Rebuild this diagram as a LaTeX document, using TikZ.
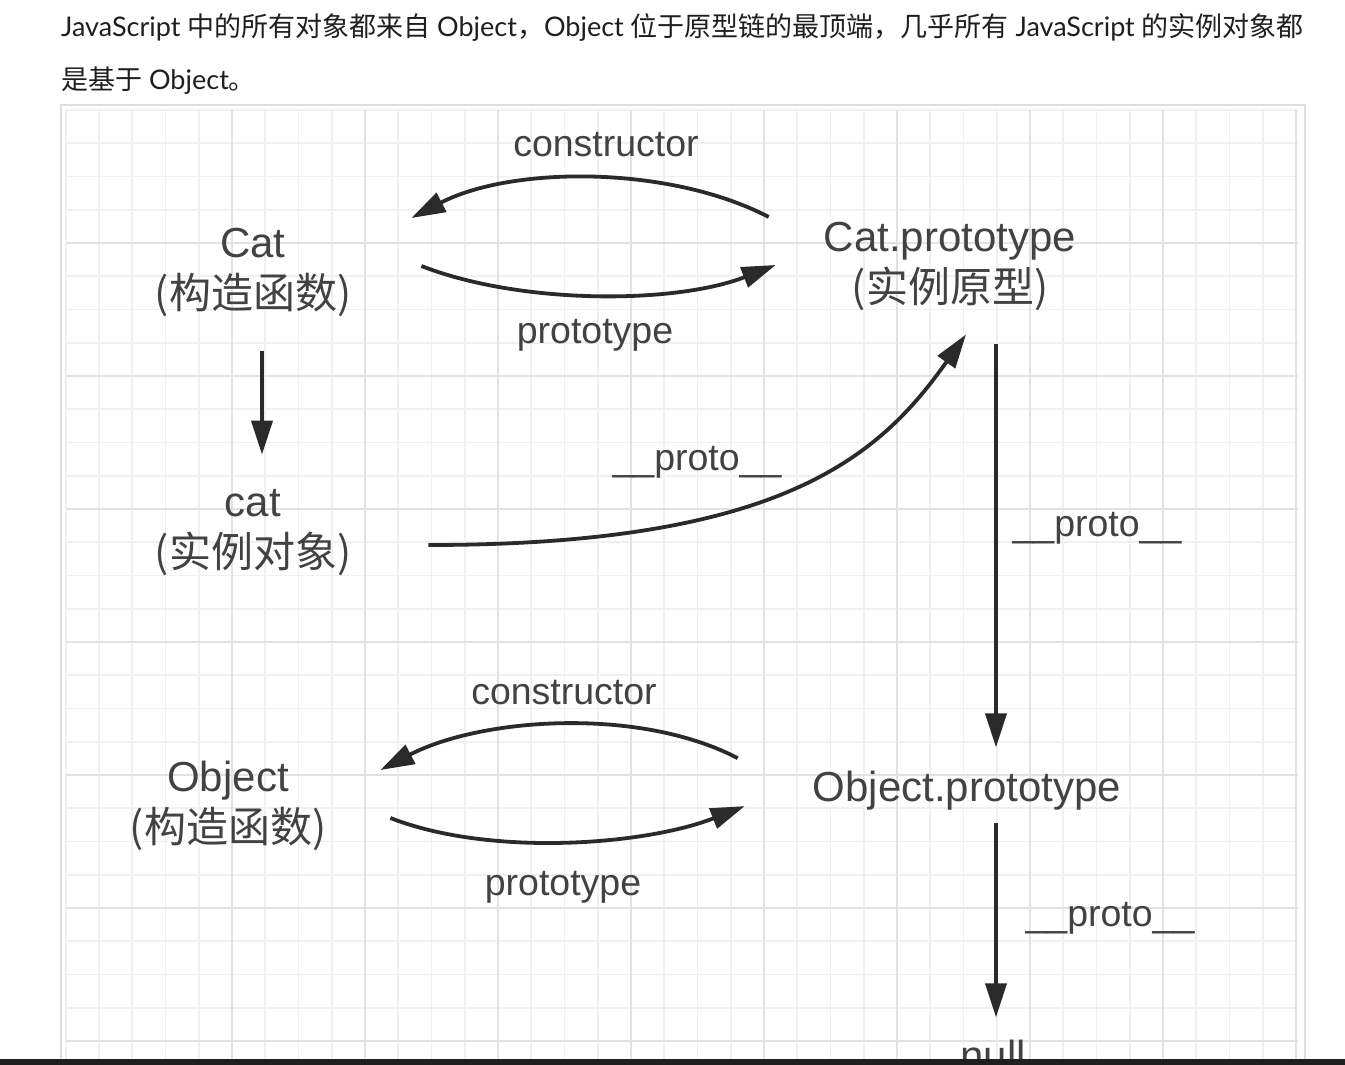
\documentclass[tikz,border=0pt]{standalone}
\usepackage{fontspec}
\setmainfont{Liberation Sans}
\newfontfamily\cjk{Noto Sans CJK SC}
\newfontfamily\lato{Lato}
\usetikzlibrary{arrows.meta, positioning}
\definecolor{ink}{RGB}{66,66,66}
\definecolor{arrowink}{RGB}{42,42,42}
\definecolor{gridminor}{RGB}{240,240,240}
\definecolor{gridmajor}{RGB}{226,226,226}
\definecolor{framegray}{RGB}{222,222,222}

\begin{document}
\begin{tikzpicture}[x=1pt, y=-1pt,
  term/.style={text=ink, inner sep=0pt, align=center, font=\fontsize{42}{51}\selectfont},
  edgetext/.style={text=ink, inner sep=0pt, anchor=base, font=\fontsize{37.5}{45}\selectfont},
  intro/.style={text=black!88, inner sep=0pt, anchor=base west, font=\lato\fontsize{27}{52}\selectfont},
  link/.style={draw=arrowink, line width=3.8pt, -{Triangle[length=34pt, width=21pt]}},
  minor/.style={draw=gridminor, line width=1.6pt},
  major/.style={draw=gridmajor, line width=2pt}]
  \useasboundingbox[fill=white] (0,0) rectangle (1345,1065);
  % Text above the figure
  \node[intro] (introtop) at (61,37) {JavaScript {\cjk 中的所有对象都来自} Object{\cjk ，}Object {\cjk 位于原型链的最顶端，几乎所有} JavaScript {\cjk 的实例对象都}};
  \node[intro] (introend) at (61,89) {{\cjk 是基于} Object{\cjk 。}};
  % Frame and grid paper
  \draw[framegray, line width=1.5pt] (61,1070) -- (61,105) -- (1305,105) -- (1305,1070);
  \foreach \i in {0,...,37}
    \draw[minor] ({65.75+33.25*\i},110) -- ({65.75+33.25*\i},1060);
  \foreach \j in {0,...,28}
    \draw[minor] (65.75,{110+33.25*\j}) -- (1298,{110+33.25*\j});
  \foreach \i in {0,...,8}
    \draw[major] ({232+133*\i},110) -- ({232+133*\i},1060);
  \foreach \j in {0,...,6}
    \draw[major] (65.75,{243+133*\j}) -- (1298,{243+133*\j});
  % Constructors, prototypes and the instance
  \node[term] (cat) at (253,272) {Cat\\{\cjk (构造函数)}};
  \node[term] (catproto) at (950,266) {Cat.prototype\\{\cjk (实例原型)}};
  \node[term] (catinst) at (253,533) {cat\\{\cjk (实例对象)}};
  \node[term] (object) at (228,806) {Object\\{\cjk (构造函数)}};
  \node[term, anchor=base] (objproto) at (967,801) {Object.prototype};
  \node[term, anchor=base] (null) at (993,1070) {null};
  % Edge labels
  \node[edgetext] (ctortop) at (606,157) {constructor};
  \node[edgetext] (prototop) at (595,343) {prototype};
  \node[edgetext] (instproto) at (697,470) {\_\_proto\_\_};
  \node[edgetext] (catprotoup) at (1097,536) {\_\_proto\_\_};
  \node[edgetext] (ctorbottom) at (564,704) {constructor};
  \node[edgetext] (protobottom) at (563,895) {prototype};
  \node[edgetext] (objprotoup) at (1110,926) {\_\_proto\_\_};
  % Arrows between Cat and Cat.prototype
  \draw[link] ([shift={(-55,-49)}]catproto.west) .. controls +(-100,-52) and +(100,-52) .. ([shift={(60,-54)}]cat.east);
  \draw[link] ([shift={(70,-6)}]cat.east) .. controls +(100,39) and +(-100,39) .. ([shift={(-48,-1)}]catproto.west);
  \draw[link] ([shift={(9,35)}]cat.south) -- ([shift={(9,-35)}]catinst.north);
  \draw[link] ([shift={(77,12)}]catinst.east) .. controls +(355,0) and +(-86,121) .. ([shift={(16,24)}]catproto.south);
  % Arrows between Object and Object.prototype
  \draw[link] ([shift={(-75,-32)}]objproto.west) .. controls +(-100,-52) and +(100,-52) .. ([shift={(54,-36)}]object.east);
  \draw[link] ([shift={(64,12)}]object.east) .. controls +(100,39) and +(-100,39) .. ([shift={(-68,16)}]objproto.west);
  % Up the chain
  \draw[link] ([shift={(46,34)}]catproto.south) -- ([shift={(29,-23)}]objproto.north);
  \draw[link] ([shift={(29,13)}]objproto.south) -- ([shift={(3,-22)}]null.north);
  % Bottom edge of the screen
  \fill[black!88] (0,1059) rectangle (1345,1065);
\end{tikzpicture}
\end{document}
